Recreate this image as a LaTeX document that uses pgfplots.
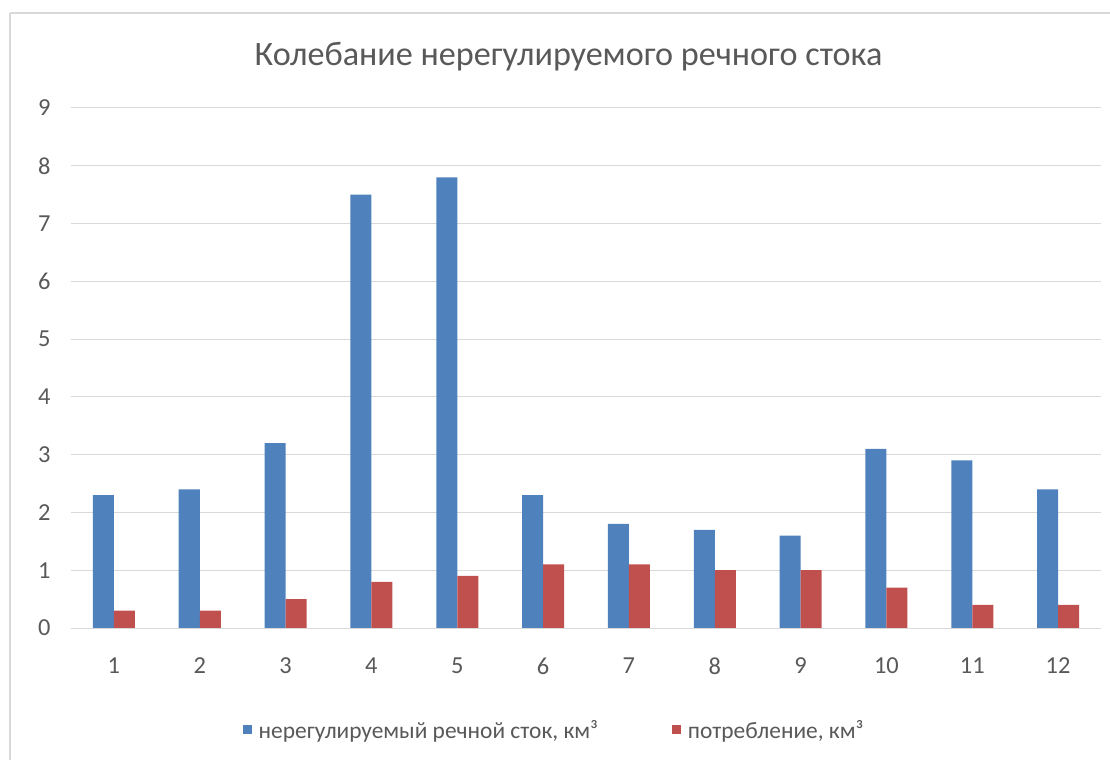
\documentclass[border=0pt]{standalone}
\usepackage{fontspec}
\setmainfont{Carlito}
\usepackage{pgfplots}
\pgfplotsset{compat=1.18}

\definecolor{stok}{HTML}{4F81BD}
\definecolor{potr}{HTML}{C0504D}
\definecolor{txt}{HTML}{595959}
\definecolor{grd}{HTML}{D9D9D9}

\begin{document}
\begin{tikzpicture}
% page = 1110 x 760 px, 1px = 1bp
\path[use as bounding box] (0,0) rectangle (1110bp,760bp);
\draw[grd, line width=1.2bp] (10bp,747bp) -- (1120bp,747bp);
\draw[grd, line width=1.2bp] (10bp,747bp) -- (10bp,-10bp);

\node[text=txt, font=\fontsize{34.3}{40}\selectfont] at (568.5bp,703bp)
  {Колебание нерегулируемого речного стока};

\begin{axis}[
    at={(71bp,132bp)}, anchor=south west,
    scale only axis, width=1030bp, height=520bp,
    ybar=0pt, bar width=21bp,
    xmin=0.5, xmax=12.5, ymin=0, ymax=9,
    xtick={1,...,12}, ytick={0,...,9},
    major tick length=0pt,
    axis line style={draw=none},
    ymajorgrids, grid style={grd, line width=1bp},
    tick label style={text=txt, font=\fontsize{24.5}{28}\selectfont},
    /pgf/number format/assume math mode=true,
    xticklabel style={yshift=-26bp},
    yticklabel style={xshift=-17bp},
    legend columns=2,
    legend style={at={(0.469,-0.196)}, anchor=center, draw=none,
      font=\fontsize{23.5}{27}\selectfont, text=txt,
      /tikz/every even column/.append style={column sep=72bp}},
    legend image code/.code={\fill[#1] (0bp,-4.5bp) rectangle (9bp,4.5bp);
      \path (14bp,0bp);},
  ]
\addplot[fill=stok, draw=none] coordinates {
  (1,2.3) (2,2.4) (3,3.2) (4,7.5) (5,7.8) (6,2.3)
  (7,1.8) (8,1.7) (9,1.6) (10,3.1) (11,2.9) (12,2.4)};
\addplot[fill=potr, draw=none] coordinates {
  (1,0.3) (2,0.3) (3,0.5) (4,0.8) (5,0.9) (6,1.1)
  (7,1.1) (8,1.0) (9,1.0) (10,0.7) (11,0.4) (12,0.4)};
\legend{{нерегулируемый речной сток, км³}, {потребление, км³}}
\end{axis}
\end{tikzpicture}
\end{document}
